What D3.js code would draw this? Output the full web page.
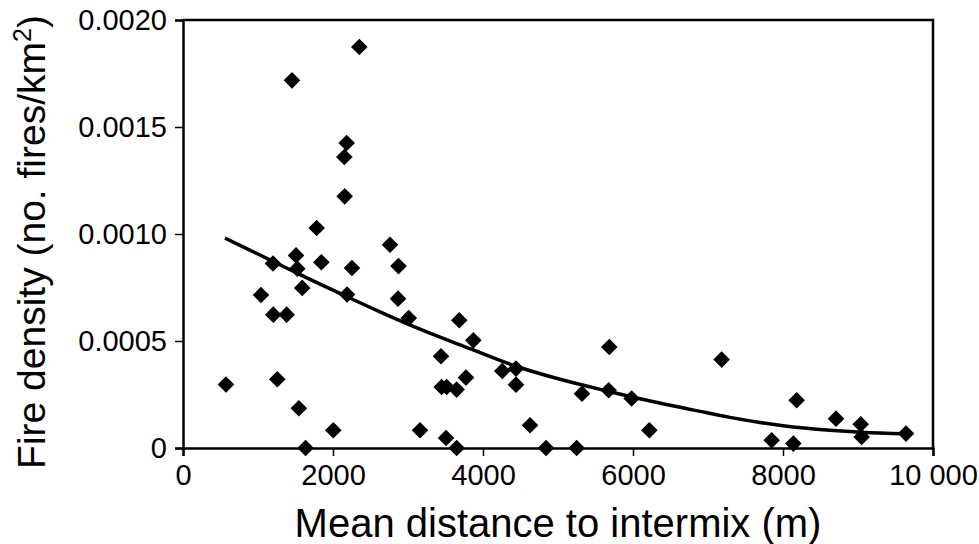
<!DOCTYPE html>
<html>
<head>
<meta charset="utf-8">
<script src="https://cdn.jsdelivr.net/npm/d3@7"></script>
<style>
  html, body { margin: 0; padding: 0; background: #fff; }
  svg { display: block; font-family: "Liberation Sans", Arial, sans-serif; }
</style>
</head>
<body>
<svg id="chart" width="979" height="544"></svg>
<script>
// fire density vs distance to intermix

const distance = [
  573, 1040, 1200, 1204, 1382, 1257, 1545, 1634, 2004, 1453,
  1507, 1524, 1590, 1782, 1845, 2182, 2151, 2156, 2187, 2253,
  2351, 2760, 2873, 2867, 3010, 3160, 3440, 3449, 3516, 3507,
  3649, 3649, 3684, 3773, 3871, 4257, 4440, 4440, 4627, 4840,
  5249, 5320, 5684, 5676, 5982, 6218, 7182, 7849, 8138, 8182,
  8707, 9036, 9049, 9640
];
const density = [
  0.000297, 0.000715, 0.000862, 0.000623, 0.000623, 0.000321, 0.000186, 0, 0.0000827, 0.001718,
  0.000900, 0.000838, 0.000748, 0.001028, 0.000868, 0.001425, 0.001360, 0.001176, 0.000717, 0.000841,
  0.001874, 0.000950, 0.000850, 0.000698, 0.000607, 0.0000827, 0.000429, 0.000285, 0.000285, 0.0000467,
  0.000273, 0, 0.000597, 0.000329, 0.000503, 0.000360, 0.000371, 0.000296, 0.000106, 0,
  0, 0.000254, 0.000472, 0.000270, 0.000231, 0.0000827, 0.000413, 0.000036, 0.0000205, 0.000223,
  0.000137, 0.000111, 0.0000514, 0.0000673
];

// fitted curve
const fitDistance = [560, 800, 1200, 1693, 2187, 2627, 3160, 3827, 4440, 5027, 5693, 6093, 6893, 7293, 8000, 8627, 9040, 9640];
const fitDensity  = [0.000981, 0.000940, 0.000872, 0.000788, 0.000707, 0.000636, 0.000555, 0.000464, 0.000382,
                     0.000321, 0.000263, 0.000230, 0.000171, 0.000143, 0.000104, 0.0000827, 0.0000734, 0.0000664];

const xTicks = [0, 2000, 4000, 6000, 8000, 10000];
const xTickLabels = ["0", "2000", "4000", "6000", "8000", "10 000"];
const yTicks = [0, 0.0005, 0.0010, 0.0015, 0.0020];
const yTickLabels = ["0", "0.0005", "0.0010", "0.0015", "0.0020"];

const W = 979, H = 544;
const m = { left: 183, top: 20, right: 46, bottom: 96 };

const svg = d3.select("#chart");

const x = d3.scaleLinear().domain([0, 10000]).range([m.left, W - m.right]);
const y = d3.scaleLinear().domain([0, 0.0020]).range([H - m.bottom, m.top]);

// frame (top + right)
svg.append("path")
   .attr("d", `M${x(0)},${y(0.002)}H${x(10000)}V${y(0)}`)
   .attr("fill", "none")
   .attr("stroke", "#000")
   .attr("stroke-width", 2.5);

// axes
const xAxis = svg.append("g")
   .attr("transform", `translate(0,${y(0)})`)
   .call(d3.axisBottom(x).tickValues(xTicks)
           .tickFormat((d, i) => xTickLabels[i])
           .tickSizeOuter(0).tickSize(8).tickPadding(8));

const yAxis = svg.append("g")
   .attr("transform", `translate(${x(0)},0)`)
   .call(d3.axisLeft(y).tickValues(yTicks)
           .tickFormat((d, i) => yTickLabels[i])
           .tickSizeOuter(0).tickSize(8).tickPadding(8));

[xAxis, yAxis].forEach(g => {
  g.select(".domain").attr("stroke-width", 2.5);
  g.selectAll(".tick line").attr("stroke-width", 1.5);
  g.selectAll(".tick text")
   .attr("font-size", "29px")
   .attr("font-family", "'Liberation Sans', Arial, sans-serif")
   .attr("fill", "#000");
});

/* axis labels */
svg.append("text")                   // x-label
   .attr("x", (x(0) + x(10000)) / 2)
   .attr("y", 537)
   .attr("text-anchor", "middle")
   .attr("font-size", "40px")
   .text("Mean distance to intermix (m)");

const yl = svg.append("text")         // y-label
   .attr("transform", `translate(45,242) rotate(-90)`)
   .attr("text-anchor", "middle")
   .attr("font-size", "39px");
yl.append("tspan").text("Fire density (no. fires/km");
yl.append("tspan").attr("font-size", "25px").attr("dy", -14).text("2");
yl.append("tspan").attr("dy", 14).text(")");

// fitted line
const pts = fitDistance.map((d, i) => [d, fitDensity[i]]);
svg.append("path")
   .datum(pts)
   .attr("fill", "none")
   .attr("stroke", "#000")
   .attr("stroke-width", 3.5)
   .attr("d", d3.line().x(d => x(d[0])).y(d => y(d[1])).curve(d3.curveMonotoneX));

// diamonds
const diamond = d3.symbol().type(d3.symbolSquare).size(138);
svg.append("g")
   .selectAll("path")
   .data(distance.map((d, i) => ({ d, v: density[i] })))
   .join("path")
     .attr("transform", p => `translate(${x(p.d)},${y(p.v)}) rotate(45)`)
     .attr("d", diamond)
     .attr("fill", "#000");
</script>
</body>
</html>
